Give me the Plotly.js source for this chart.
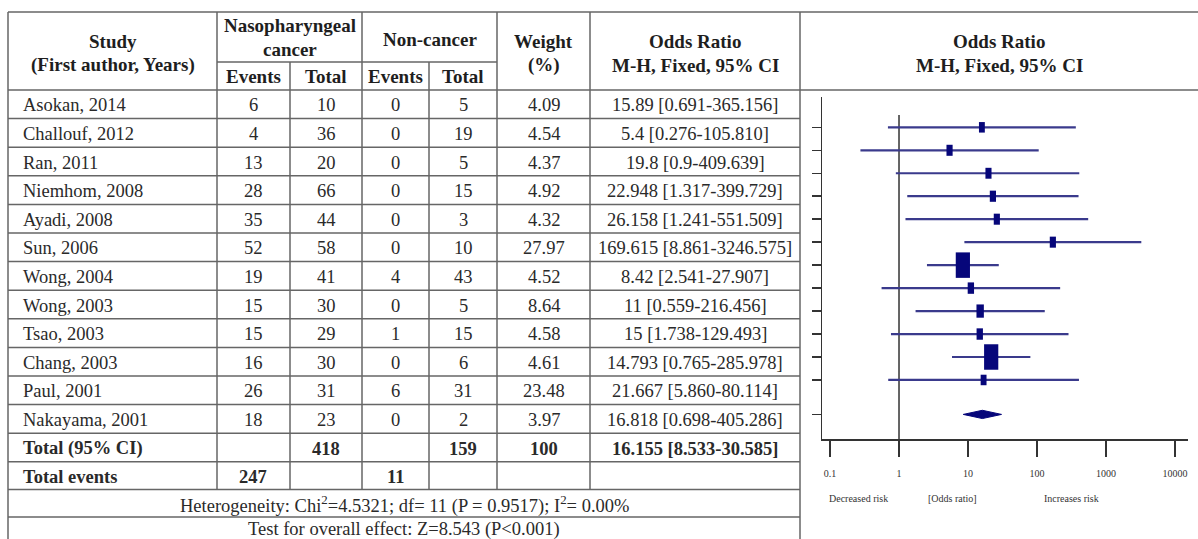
<!DOCTYPE html>
<html><head><meta charset="utf-8">
<script src="https://cdn.plot.ly/plotly-3.0.1.min.js"></script>
<style>html,body{margin:0;padding:0;background:#fff;}#chart{width:1198px;height:539px;}</style>
</head><body><div id="chart"></div>
<script>
// ---------- data ----------
const studies = ["Asokan, 2014","Challouf, 2012","Ran, 2011","Niemhom, 2008","Ayadi, 2008","Sun, 2006","Wong, 2004","Wong, 2003","Tsao, 2003","Chang, 2003","Paul, 2001","Nakayama, 2001"];
const caseEvents = [6,4,13,28,35,52,19,15,15,16,26,18];
const caseTotal  = [10,36,20,66,44,58,41,30,29,30,31,23];
const ctrlEvents = [0,0,0,0,0,0,4,0,1,0,6,0];
const ctrlTotal  = [5,19,5,15,3,10,43,5,15,6,31,2];
const weightPct  = ["4.09","4.54","4.37","4.92","4.32","27.97","4.52","8.64","4.58","4.61","23.48","3.97"];
const oddsRatio  = ["15.89","5.4","19.8","22.948","26.158","169.615","8.42","11","15","14.793","21.667","16.818"];
const ciLower    = ["0.691","0.276","0.9","1.317","1.241","8.861","2.541","0.559","1.738","0.765","5.860","0.698"];
const ciUpper    = ["365.156","105.810","409.639","399.729","551.509","3246.575","27.907","216.456","129.493","285.978","80.114","405.286"];
// weights as drawn by the box sizes in the plot
const plotWeight = [4.1,4.5,4.4,4.6,4.5,4.5,24,4.8,6.5,4.8,24,4.1];
const pooledOR = "16.155", pooledLower = "8.533", pooledUpper = "30.585";
const totalCase = 418, totalCtrl = 159, totalWeight = 100;
const eventsCase = 247, eventsCtrl = 11;
const heterogeneity = "Heterogeneity: Chi<sup>2</sup>=4.5321; df= 11 (P = 0.9517); I<sup>2</sup>= 0.00%";
const overallTest = "Test for overall effect: Z=8.543 (P<0.001)";
const xTickVals = [0.1,1,10,100,1000,10000];
const xTickText = ["0.1","1","10","100","1000","10000"];
const riskLabels = ["Decreased risk","[Odds ratio]","Increases risk"];

// ---------- layout helpers ----------
const W = 1198, H = 539;
const X = p => p / W, Y = p => 1 - p / H;
const SERIF = "Liberation Serif, Times New Roman, serif";
const lineCol = "#666", textCol = "#2a2a2a";
const shapes = [], ann = [];
function hl(y, x0, x1){ shapes.push({type:"line",xref:"paper",yref:"paper",x0:X(x0),x1:X(x1),y0:Y(y),y1:Y(y),line:{color:lineCol,width:1.5}}); }
function vl(x, y0, y1){ shapes.push({type:"line",xref:"paper",yref:"paper",x0:X(x),x1:X(x),y0:Y(y0),y1:Y(y1),line:{color:lineCol,width:1.5}}); }
function txt(t, x, y, opt){ opt = opt || {};
  ann.push({text:t, xref:"paper", yref:"paper", x:X(x), y:Y(y), xanchor:opt.anchor||"center", yanchor:"middle", showarrow:false,
    font:{family:SERIF, size:opt.size||18.5, color:opt.color||textCol}}); }

const tTop = 12, tSub = 62, tHdr = 90, rowH = 28.6, rowH2 = 27.6;
const colL = 8, cStudy = 217, cE1 = 290, cT1 = 362, cE2 = 429, cT2 = 497, cW = 590, cOR = 800, tRight = 1198;
const nS = studies.length;
const nRows = nS + 4;
const rowY = k => k <= nS + 1 ? tHdr + rowH * k : tHdr + rowH * (nS + 1) + rowH2 * (k - nS - 1);
hl(tTop, colL, tRight); hl(tHdr, colL, tRight); hl(tSub, cStudy, cT2);
for (let k = 1; k <= nRows; k++) hl(rowY(k), colL, cOR);
const bodyEnd = rowY(nS + 2);
vl(colL, tTop, H); vl(cOR, tTop, H);
[cStudy, cT1, cT2, cW].forEach(x => vl(x, tTop, bodyEnd));
[cE1, cE2].forEach(x => vl(x, tSub, bodyEnd));
const rowMid = k => (rowY(k) + rowY(k + 1)) / 2 + 1;

// header
const B = s => "<b>" + s + "</b>";
const HS = {size:19, color:"#1e1e1e"};
txt(B("Study"), (colL+cStudy)/2, 41, HS); txt(B("(First author, Years)"), (colL+cStudy)/2, 65, HS);
txt(B("Nasopharyngeal"), (cStudy+cT1)/2, 25, HS); txt(B("cancer"), (cStudy+cT1)/2, 50, HS);
txt(B("Non-cancer"), (cT1+cT2)/2, 39, HS);
const mE1=(cStudy+cE1)/2, mT1=(cE1+cT1)/2, mE2=(cT1+cE2)/2, mT2=(cE2+cT2)/2, mW=(cT2+cW)/2, mOR=(cW+cOR)/2;
txt(B("Events"), mE1, 77, HS); txt(B("Total"), mT1, 77, HS); txt(B("Events"), mE2, 77, HS); txt(B("Total"), mT2, 77, HS);
txt(B("Weight"), mW, 41, HS); txt(B("(%)"), mW, 65, HS);
txt(B("Odds Ratio"), mOR, 41, HS); txt(B("M-H, Fixed, 95% CI"), mOR, 65, HS);
txt(B("Odds Ratio"), (cOR+tRight)/2, 41, HS); txt(B("M-H, Fixed, 95% CI"), (cOR+tRight)/2, 65, HS);

// body
studies.forEach((s, i) => {
  const cy = rowMid(i);
  txt(s, 21, cy, {anchor:"left"});
  txt(String(caseEvents[i]), mE1, cy); txt(String(caseTotal[i]), mT1, cy);
  txt(String(ctrlEvents[i]), mE2, cy); txt(String(ctrlTotal[i]), mT2, cy);
  txt(weightPct[i], mW, cy);
  txt(oddsRatio[i] + " [" + ciLower[i] + "-" + ciUpper[i] + "]", mOR, cy);
});
let cy = rowMid(nS);
txt(B("Total (95% CI)"), 21, cy, {anchor:"left"});
txt(B(totalCase), mT1, cy); txt(B(totalCtrl), mT2, cy); txt(B(totalWeight), mW, cy);
txt(B(pooledOR + " [" + pooledLower + "-" + pooledUpper + "]"), mOR, cy);
cy = rowMid(nS + 1);
txt(B("Total events"), 21, cy, {anchor:"left"});
txt(B(eventsCase), mE1, cy); txt(B(eventsCtrl), mE2, cy);
txt(heterogeneity, (colL+cOR)/2, rowMid(nS + 2));
txt(overallTest, (colL+cOR)/2, rowMid(nS + 3) - 2);

// forest plot labels
[[858,0],[952,1],[1071,2]].forEach(([x,i]) => txt(riskLabels[i], x, 498, {size:10, color:"#333"}));

// ---------- forest plot traces ----------
const rows = studies.map((_, i) => i + 1);
const orN = oddsRatio.map(Number), loN = ciLower.map(Number), hiN = ciUpper.map(Number);
const diamondRow = nS + 1.5;
const navy = "#06067a";
const traces = [
  {type:"scatter", mode:"lines", x:[1,1], y:[0.46, 14.57], line:{color:"#333", width:1.5}, hoverinfo:"skip", cliponaxis:false},
  {type:"scatter", mode:"markers", x:orN, y:rows,
   error_x:{type:"data", symmetric:false, array:orN.map((v,i)=>hiN[i]-v), arrayminus:orN.map((v,i)=>v-loN[i]), color:"#3a3a8c", thickness:2.2, width:0},
   marker:{symbol:"line-ns", opacity:1, size:plotWeight.map(w => 5.2*Math.sqrt(w)/1.4), color:navy,
           line:{color:navy, width:plotWeight.map(w => 2.9*Math.sqrt(w))}}, cliponaxis:false},
  {type:"scatter", mode:"lines", fill:"toself", fillcolor:navy,
   x:[Number(pooledLower), Number(pooledOR), Number(pooledUpper), Number(pooledOR), Number(pooledLower)],
   y:[diamondRow, diamondRow-0.18, diamondRow, diamondRow+0.18, diamondRow], line:{color:navy, width:1}}
];

const layout = {
  width:W, height:H, autosize:false, margin:{l:0,r:0,t:0,b:0}, showlegend:false,
  paper_bgcolor:"#fff", plot_bgcolor:"rgba(0,0,0,0)",
  xaxis:{type:"log", domain:[X(822), X(1188)], range:[-1.116, 4.188], tickvals:xTickVals, ticktext:xTickText,
    ticks:"outside", ticklen:16, tickwidth:1.5, tickcolor:"#333", showline:true, linecolor:"#333", linewidth:1.5,
    showgrid:false, zeroline:false, ticklabelstandoff:8, tickfont:{family:SERIF, size:10, color:"#333"}, fixedrange:true},
  yaxis:{domain:[Y(439), Y(97)], range:[14.57, -0.32], tickvals:rows.concat([diamondRow]), showticklabels:false,
    ticks:"outside", ticklen:9, tickwidth:1.5, tickcolor:"#333", showline:true, linecolor:"#333", linewidth:1.5,
    showgrid:false, zeroline:false, fixedrange:true},
  shapes:shapes, annotations:ann
};
Plotly.newPlot("chart", traces, layout, {staticPlot:true, displayModeBar:false});
</script></body></html>
